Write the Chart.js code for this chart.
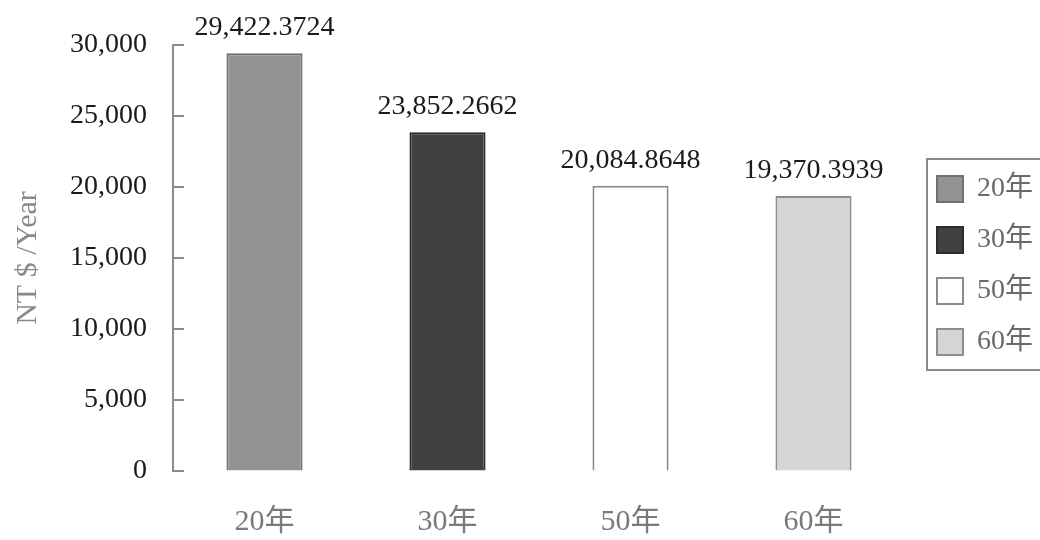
<!DOCTYPE html>
<html>
<head>
<meta charset="utf-8">
<script src="https://cdn.jsdelivr.net/npm/chart.js@4/dist/chart.umd.min.js"></script>
<style>
  html, body { margin: 0; padding: 0; background: #fff; }
  #wrap { width: 1040px; height: 540px; }
</style>
</head>
<body>
<div id="wrap"><canvas id="c" width="1040" height="540"></canvas></div>
<script>
// Annual cost by service life
const categories = ['20年', '30年', '50年', '60年'];
const values = [29422.3724, 23852.2662, 20084.8648, 19370.3939];
const yTickMin = 0;
const yTickMax = 30000;
const yTickStep = 5000;
const yTitle = 'NT $ /Year';

const fillColors = ['#929292', '#404040', '#ffffff', '#d5d5d5'];
const edgeColors = ['#707070', '#2c2c2c', '#8a8a8a', '#8e8e8e'];

const serif = "'Liberation Serif', 'Times New Roman', 'Noto Sans CJK TC', serif";

function fmt(v) {
  return v.toLocaleString('en-US', { minimumFractionDigits: 4, maximumFractionDigits: 4 });
}

// Tick marks pointing into the plot, drawn along the y axis
const innerTicks = {
  id: 'innerTicks',
  afterDatasetsDraw(chart) {
    const y = chart.scales.y;
    const ctx = chart.ctx;
    const x0 = chart.chartArea.left;
    ctx.save();
    ctx.strokeStyle = '#8c8c8c';
    ctx.lineWidth = 2;
    y.ticks.forEach(t => {
      const py = Math.round(y.getPixelForValue(t.value));
      ctx.beginPath();
      ctx.moveTo(x0, py);
      ctx.lineTo(x0 + 11, py);
      ctx.stroke();
    });
    ctx.restore();
  }
};

// Value printed above every bar
const valueLabels = {
  id: 'valueLabels',
  afterDatasetsDraw(chart) {
    const ctx = chart.ctx;
    const meta = chart.getDatasetMeta(0);
    ctx.save();
    ctx.font = '28px ' + serif;
    ctx.fillStyle = '#1a1a1a';
    ctx.textAlign = 'center';
    ctx.textBaseline = 'alphabetic';
    meta.data.forEach((bar, i) => {
      ctx.fillText(fmt(values[i]), bar.x, bar.y - 18);
    });
    ctx.restore();
  }
};

// Legend placement and its frame
const legendFrame = {
  id: 'legendFrame',
  afterLayout(chart) {
    const lg = chart.legend;
    lg.left += 9; lg.right += 9;
    lg.top -= 27; lg.bottom -= 27;
  },
  afterDraw(chart) {
    const lg = chart.legend;
    const boxes = lg.legendHitBoxes;
    if (!boxes || !boxes.length) return;
    const first = boxes[0];
    const last = boxes[boxes.length - 1];
    const ctx = chart.ctx;
    ctx.save();
    ctx.strokeStyle = '#8a8a8a';
    ctx.lineWidth = 2;
    const left = first.left - 10;
    const top = first.top - 16;
    const bottom = last.top + last.height + 14;
    ctx.strokeRect(left, top, chart.width + 10 - left, bottom - top);
    ctx.restore();
  }
};

new Chart(document.getElementById('c'), {
  type: 'bar',
  data: {
    labels: categories,
    datasets: [{
      data: values,
      backgroundColor: fillColors,
      borderColor: edgeColors,
      borderWidth: 2,
      borderSkipped: 'start',
      barPercentage: 0.416,
      categoryPercentage: 1.0
    }]
  },
  options: {
    responsive: false,
    animation: false,
    layout: { padding: { top: 45, right: 6, bottom: 0, left: 0 } },
    plugins: {
      tooltip: { enabled: false },
      legend: {
        position: 'right',
        align: 'center',
        labels: {
          boxWidth: 26,
          boxHeight: 26,
          padding: 23,
          color: '#6a6a6a',
          font: { size: 28, family: serif },
          generateLabels() {
            return categories.map((c, i) => ({
              text: c,
              fillStyle: fillColors[i],
              strokeStyle: edgeColors[i],
              lineWidth: 2,
              fontColor: '#6a6a6a',
              hidden: false,
              index: i
            }));
          }
        }
      }
    },
    scales: {
      x: {
        afterFit(scale) { scale.height = 69; },
        grid: { display: false, drawTicks: false },
        border: { display: false },
        ticks: {
          padding: 33,
          color: '#7a7a7a',
          font: { size: 30, family: serif }
        }
      },
      y: {
        min: yTickMin,
        max: yTickMax,
        afterFit(scale) { scale.width = 173; },
        grid: { display: true, drawOnChartArea: false, drawTicks: false },
        border: { display: true, color: '#8c8c8c', width: 2 },
        ticks: {
          stepSize: yTickStep,
          padding: 26,
          color: '#1a1a1a',
          font: { size: 28, family: serif },
          callback: v => v.toLocaleString('en-US')
        },
        title: {
          display: true,
          text: yTitle,
          color: '#8a8a8a',
          font: { size: 30, family: serif },
          padding: { top: 10, bottom: 0 }
        }
      }
    }
  },
  plugins: [innerTicks, valueLabels, legendFrame]
});
</script>
</body>
</html>
